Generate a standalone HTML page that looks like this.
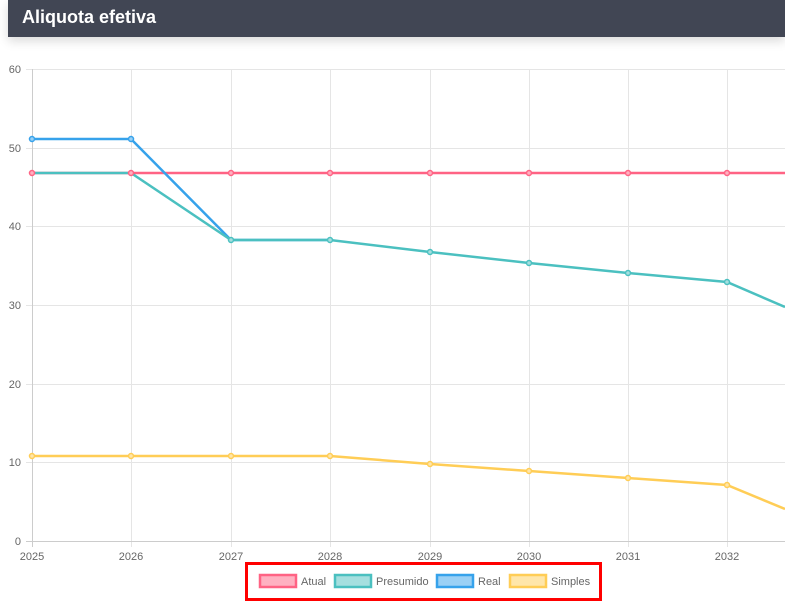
<!DOCTYPE html>
<html><head><meta charset="utf-8"><style>
body{margin:0;width:785px;height:604px;background:#fff;overflow:hidden;font-family:"Liberation Sans",Arial,sans-serif;position:relative}
.hdr{position:absolute;left:8px;top:0;width:777px;height:37px;background:#414654;box-shadow:0 4px 10px rgba(0,0,0,.15)}
.hdr span{position:absolute;left:14px;top:7px;color:#fff;font-weight:bold;font-size:18px}
.box{position:absolute;left:245px;top:562px;width:351px;height:33px;border:3px solid #f00}
</style></head><body>
<div class="hdr"><span>Aliquota efetiva</span></div>
<svg width="785" height="604" style="position:absolute;left:0;top:0">
<g stroke="#e5e5e5" stroke-width="1">
<line x1="26" y1="69.5" x2="785" y2="69.5"/><line x1="26" y1="148.5" x2="785" y2="148.5"/><line x1="26" y1="226.5" x2="785" y2="226.5"/><line x1="26" y1="305.5" x2="785" y2="305.5"/><line x1="26" y1="384.5" x2="785" y2="384.5"/><line x1="26" y1="462.5" x2="785" y2="462.5"/>
<line x1="131.5" y1="69" x2="131.5" y2="547"/><line x1="231.5" y1="69" x2="231.5" y2="547"/><line x1="330.5" y1="69" x2="330.5" y2="547"/><line x1="430.5" y1="69" x2="430.5" y2="547"/><line x1="529.5" y1="69" x2="529.5" y2="547"/><line x1="628.5" y1="69" x2="628.5" y2="547"/><line x1="727.5" y1="69" x2="727.5" y2="547"/>
</g>
<g stroke="#ccc"><line x1="32.5" y1="69" x2="32.5" y2="547"/><line x1="26" y1="541.5" x2="785" y2="541.5"/></g>
<g font-size="11" fill="#666" text-anchor="end">
<text x="21" y="73">60</text><text x="21" y="152">50</text><text x="21" y="230">40</text><text x="21" y="309">30</text><text x="21" y="388">20</text><text x="21" y="466">10</text><text x="21" y="545">0</text>
</g>
<g font-size="11" fill="#666" text-anchor="middle">
<text x="32" y="560">2025</text><text x="131" y="560">2026</text><text x="231" y="560">2027</text><text x="330" y="560">2028</text><text x="430" y="560">2029</text><text x="529" y="560">2030</text><text x="628" y="560">2031</text><text x="727" y="560">2032</text>
</g>
<g fill="none" stroke-width="2.5">
<polyline stroke="#ff6384" points="32,173 131,173 231,173 330,173 430,173 529,173 628,173 727,173 785,173"/>
<polyline stroke="#36a2eb" points="32,139 131,139 231,240 330,240"/>
<polyline stroke="#4bc0c0" points="32,173 131,173 231,240 330,240 430,252 529,263 628,273 727,282 785,307"/>
<polyline stroke="#ffcd56" points="32,456 131,456 231,456 330,456 430,464 529,471 628,478 727,485 785,509"/>
</g>
<g stroke-width="1.5">
<g fill="#ffb1c1" stroke="#ff6384"><circle cx="32" cy="173" r="2.5"/><circle cx="131" cy="173" r="2.5"/><circle cx="231" cy="173" r="2.5"/><circle cx="330" cy="173" r="2.5"/><circle cx="430" cy="173" r="2.5"/><circle cx="529" cy="173" r="2.5"/><circle cx="628" cy="173" r="2.5"/><circle cx="727" cy="173" r="2.5"/></g>
<g fill="#9ad0f5" stroke="#36a2eb"><circle cx="32" cy="139" r="2.5"/><circle cx="131" cy="139" r="2.5"/></g>
<g fill="#a5dfdf" stroke="#4bc0c0"><circle cx="231" cy="240" r="2.5"/><circle cx="330" cy="240" r="2.5"/><circle cx="430" cy="252" r="2.5"/><circle cx="529" cy="263" r="2.5"/><circle cx="628" cy="273" r="2.5"/><circle cx="727" cy="282" r="2.5"/></g>
<g fill="#ffe6aa" stroke="#ffcd56"><circle cx="32" cy="456" r="2.5"/><circle cx="131" cy="456" r="2.5"/><circle cx="231" cy="456" r="2.5"/><circle cx="330" cy="456" r="2.5"/><circle cx="430" cy="464" r="2.5"/><circle cx="529" cy="471" r="2.5"/><circle cx="628" cy="478" r="2.5"/><circle cx="727" cy="485" r="2.5"/></g>
</g>
<g stroke-width="2.5">
<rect x="260" y="575" width="36" height="12" fill="#ffb1c1" stroke="#ff6384"/>
<rect x="335" y="575" width="36" height="12" fill="#a5dfdf" stroke="#4bc0c0"/>
<rect x="437" y="575" width="36" height="12" fill="#9ad0f5" stroke="#36a2eb"/>
<rect x="510" y="575" width="36" height="12" fill="#ffe6aa" stroke="#ffcd56"/>
</g>
<g font-size="11" fill="#666">
<text x="301" y="585">Atual</text><text x="376" y="585">Presumido</text><text x="478" y="585">Real</text><text x="551" y="585">Simples</text>
</g>
</svg>
<div class="box"></div>
</body></html>
